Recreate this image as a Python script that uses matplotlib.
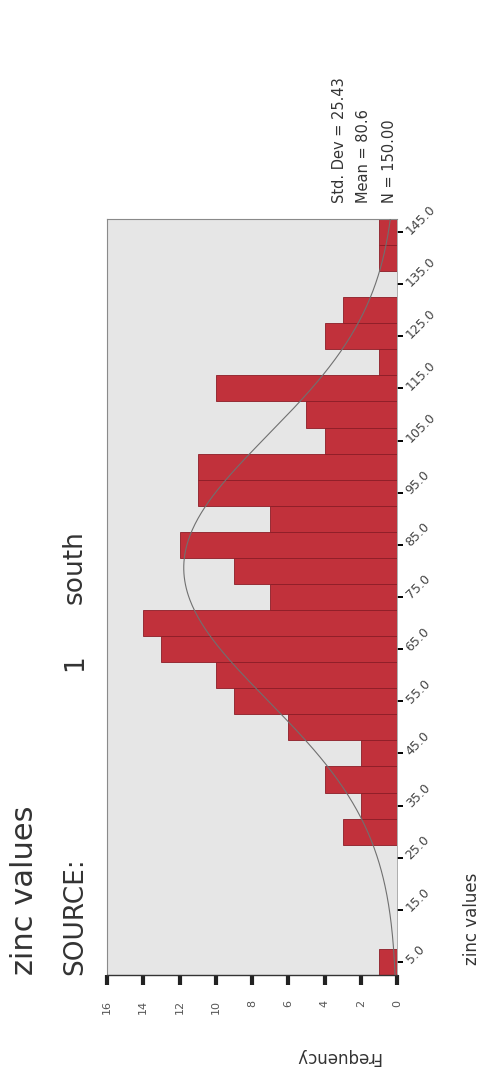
#!/usr/bin/env python3
"""Histogram of zinc values (source 1, south), drawn turned on its side.

Frequency runs right-to-left along the bottom, zinc bins run up the right-hand
side, with the fitted normal curve from the summary statistics overlaid.
Writes ``out.png``.
"""
import numpy as np
import matplotlib
matplotlib.use("Agg")
import matplotlib.pyplot as plt

# bin midpoints (width 5) and counts per bin
bin_mids = [5, 10, 15, 20, 25, 30, 35, 40, 45, 50, 55, 60, 65, 70, 75,
            80, 85, 90, 95, 100, 105, 110, 115, 120, 125, 130, 135, 140, 145]
counts = [1, 0, 0, 0, 0, 3, 2, 4, 2, 6, 9, 10, 13, 14, 7,
          9, 12, 7, 11, 11, 4, 5, 10, 1, 4, 3, 0, 1, 1]
bin_width = 5.0

zinc_ticks = [5, 15, 25, 35, 45, 55, 65, 75, 85, 95, 105, 115, 125, 135, 145]
freq_ticks = [0, 2, 4, 6, 8, 10, 12, 14, 16]

std_dev = 25.43
mean = 80.6
n_cases = 150

W, H = 482, 1075
fig = plt.figure(figsize=(W / 100, H / 100), dpi=100)
fig.patch.set_facecolor("white")


def fx(px):
    return px / W


def fy(py):
    return 1 - py / H


ax = fig.add_axes([fx(107), fy(975), fx(397) - fx(107), fy(219) - fy(975)])
ax.set_facecolor("#e6e6e6")

ax.barh(bin_mids, counts, height=bin_width, color="#c1313b",
        edgecolor="#8c1d26", linewidth=0.6, zorder=2)

# normal curve scaled to the histogram
z = np.linspace(2.5, 147.5, 400)
curve = n_cases * bin_width / (std_dev * np.sqrt(2 * np.pi)) * \
    np.exp(-0.5 * ((z - mean) / std_dev) ** 2)
ax.plot(curve, z, color="#707070", lw=0.8, zorder=3)

ax.set_xlim(16, 0)
ax.set_ylim(2.5, 147.5)

# zinc axis on the right, labels slanted
ax.yaxis.tick_right()
ax.set_yticks(zinc_ticks)
ax.set_yticklabels([f"{v:.1f}" for v in zinc_ticks], rotation=45,
                   ha="left", va="center", rotation_mode="anchor",
                   fontsize=9, color="#444444")
ax.tick_params(axis="y", direction="out", length=4, width=1.4,
               color="black", pad=4)

# frequency axis along the bottom
ax.set_xticks(freq_ticks)
ax.set_xticklabels([str(v) for v in freq_ticks], rotation=90,
                   fontsize=8, color="#555555")
ax.tick_params(axis="x", direction="out", length=7, width=3,
               color="#222222", pad=11)

for side in ("left", "top"):
    ax.spines[side].set_color("#8a8a8a")
    ax.spines[side].set_linewidth(0.8)
ax.spines["right"].set_color("#a0a0a0")
ax.spines["right"].set_linewidth(0.6)
ax.spines["bottom"].set_color("#333333")
ax.spines["bottom"].set_linewidth(1.0)

txt = dict(color="#333333", family="DejaVu Sans")

# titles
fig.text(fx(25), fy(975), "zinc values", rotation=90, ha="center",
         va="bottom", fontsize=22, **txt)
fig.text(fx(75), fy(975), "SOURCE:", rotation=90, ha="center",
         va="bottom", fontsize=19, **txt)
fig.text(fx(75), fy(663), "1", rotation=90, ha="center",
         va="center", fontsize=19, **txt)
fig.text(fx(75), fy(567), "south", rotation=90, ha="center",
         va="center", fontsize=19, **txt)

# axis titles
fig.text(fx(472), fy(965), "zinc values", rotation=90, ha="center",
         va="bottom", fontsize=12, **txt)
fig.text(fx(338), fy(1057), "Frequency", rotation=180, ha="center",
         va="center", fontsize=12, **txt)

# summary statistics
fig.text(fx(340), fy(203), f"Std. Dev = {std_dev:.2f}", rotation=90,
         ha="center", va="bottom", fontsize=10.5, **txt)
fig.text(fx(364), fy(203), f"Mean = {mean:.1f}", rotation=90,
         ha="center", va="bottom", fontsize=10.5, **txt)
fig.text(fx(389), fy(203), f"N = {n_cases:.2f}", rotation=90,
         ha="center", va="bottom", fontsize=10.5, **txt)

fig.savefig("out.png", dpi=100)
